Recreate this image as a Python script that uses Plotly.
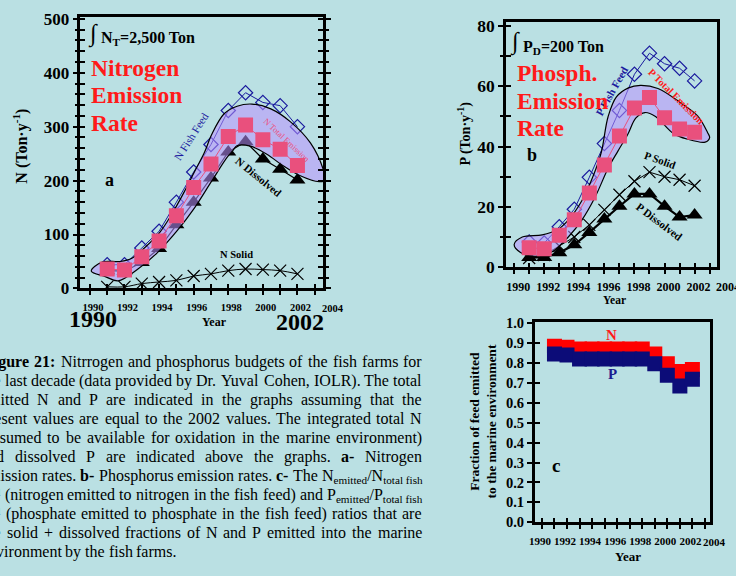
import re
import plotly.graph_objects as go

W, H = 736, 576
SERIF = "Liberation Serif"
BG = "#bae0e3"
PINK = "#e9507d"
NAVY = "#1a1a9e"
RED = "#ff1a1a"
BAND_FILL = "rgba(185,145,255,0.55)"

years = [1991, 1992, 1993, 1994, 1995, 1996, 1997, 1998, 1999, 2000, 2001, 2002]
year_ticks = [1990, 1992, 1994, 1996, 1998, 2000, 2002, 2004]

# ---- panel a : nitrogen (Ton/y)
n_fish_feed = [44, 44, 75, 106, 160, 216, 267, 330, 363, 345, 339, 300]
n_total_emission = [36, 34, 59, 88, 135, 187, 231, 282, 303, 276, 258, 228]
n_dissolved = [33, 32, 48, 74, 118, 160, 205, 253, 272, 240, 221, 201]
n_solid = [3, 3, 9, 12, 15, 23, 27, 33, 36, 35, 33, 27]
n_ticks = [0, 100, 200, 300, 400, 500]

# hand-drawn envelope around the N emission curves
band_a_x = [1990.08, 1990.71, 1991.75, 1992.43, 1993.18, 1994.04, 1994.72, 1995.47, 1996.04,
            1996.62, 1997.02, 1997.76, 1998.51, 1999.37, 2000.46, 2001.6, 2002.75, 2003.49,
            2003.6, 2003.25, 2002.1, 2001.15, 2000.23, 1999.28, 1998.52, 1998.25, 1997.93,
            1997.02, 1996.04, 1995.07, 1993.92, 1992.78, 1991.63, 1990.89, 1990.08]
band_a_y = [32, 49, 50, 56, 76, 104, 137, 180, 216, 252, 284, 324, 338, 342, 333, 309, 270, 221,
            201, 198, 210, 228, 249, 264, 265, 255, 243, 198, 149, 108, 67, 36, 14, 22, 32]

# ---- panel b : phosphorus (Ton/y)
p_fish_feed = [8.3, 8, 13.4, 19.2, 29.8, 41, 52, 64, 71, 67.5, 66, 61.8]
p_total_emission = [6.4, 6.1, 10.6, 15.7, 24.6, 33.9, 43.5, 52.8, 56.3, 49.6, 45.8, 44.8]
p_dissolved = [3.2, 3.2, 4.8, 7.4, 11.5, 16, 20.2, 24.3, 24.3, 20.2, 16.6, 17.3]
p_solid = [3, 4, 7, 10, 14, 19, 24, 28.5, 31.5, 30, 29, 27]
p_ticks = [0, 20, 40, 60, 80]

band_b_x = [1990.0, 1990.54, 1991.86, 1992.84, 1993.6, 1994.5, 1995.3, 1995.8, 1996.25, 1996.8,
            1997.6, 1998.4, 1999.56, 2001.08, 2002.2, 2002.86, 2003.0, 2002.7, 2001.5, 2000.6,
            1999.4, 1998.7, 1998.1, 1997.55, 1996.9, 1996.25, 1995.37, 1994.5, 1993.6, 1992.5,
            1991.4, 1990.4, 1990.0]
band_b_y = [7.5, 10, 10.7, 12.3, 15.6, 22, 30.8, 38.2, 50, 56.5, 59.5, 60.3, 59.3, 54.5, 50.2,
            44.7, 43, 41.5, 42.5, 44.3, 50, 51.3, 49.5, 44, 38.5, 32.8, 23.1, 15.6, 10, 5, 3.6,
            4.9, 7.5]

# ---- panel c : fraction of feed emitted
frac_n = [0.883, 0.879, 0.869, 0.869, 0.869, 0.869, 0.869, 0.869, 0.845, 0.796, 0.757, 0.767]
frac_p = [0.845, 0.840, 0.820, 0.820, 0.820, 0.820, 0.820, 0.820, 0.796, 0.738, 0.684, 0.718]
frac_ticks = [0.0, 0.1, 0.2, 0.3, 0.4, 0.5, 0.6, 0.7, 0.8, 0.9, 1.0]

# ---- caption (justified paragraph, left part cut by the page edge); '~' = non-breaking space
caption_lines = [
    "<b>Figure</b> <b>21:</b> Nitrrogen and phosphorus budgets of the fish farms for",
    "the last decade (data provided by Dr. Yuval Cohen, IOLR). The total",
    "emitted N and P are indicated in the graphs assuming that the",
    "present values are equal to the 2002 values. The integrated total N",
    "(assumed to be available for oxidation in the marine environment)",
    "and dissolved P are indicated above the graphs. <b>a-</b> Nitrogen",
    "emission rates. <b>b-</b> Phosphorus emission rates. <b>c-</b> The N<sub>emitted</sub>/N<sub>total~fish</sub>",
    "<sub>feed</sub> (nitrogen emitted to nitrogen in the fish feed) and P<sub>emitted</sub>/P<sub>total~fish</sub>",
    "<sub>feed</sub> (phosphate emitted to phosphate in the fish feed) ratios that are",
    "the solid + dissolved fractions of N and P emitted into the marine",
    "environment by the fish farms.",
]

# Times metrics (1/1000 em)
REG = {' ': 250, '(': 333, ')': 333, '+': 564, ',': 250, '-': 333, '.': 250, '/': 278, ':': 278,
       'A': 722, 'B': 667, 'C': 667, 'D': 722, 'E': 611, 'F': 556, 'G': 722, 'H': 722, 'I': 333,
       'J': 389, 'K': 722, 'L': 611, 'M': 889, 'N': 722, 'O': 722, 'P': 556, 'Q': 722, 'R': 667,
       'S': 556, 'T': 611, 'U': 722, 'V': 722, 'W': 944, 'X': 722, 'Y': 722, 'Z': 611,
       'a': 444, 'b': 500, 'c': 444, 'd': 500, 'e': 444, 'f': 333, 'g': 500, 'h': 500, 'i': 278,
       'j': 278, 'k': 500, 'l': 278, 'm': 778, 'n': 500, 'o': 500, 'p': 500, 'q': 500, 'r': 333,
       's': 389, 't': 278, 'u': 500, 'v': 500, 'w': 722, 'x': 500, 'y': 500, 'z': 444}
BOLD = dict(REG)
BOLD.update({':': 333, 'F': 611, 'a': 500, 'b': 556, 'c': 444, 'e': 444, 'g': 500, 'i': 278,
             'r': 444, 'u': 556})


def word_width(word, size):
    units, bold, sub = 0.0, False, False
    for tok in re.split(r'(<[^>]+>)', word):
        if tok == '<b>':
            bold = True
        elif tok == '</b>':
            bold = False
        elif tok == '<sub>':
            sub = True
        elif tok == '</sub>':
            sub = False
        elif tok:
            for ch in tok.replace('~', ' '):
                u = (BOLD if bold else REG).get(ch, 500)
                units += u * (0.7 if sub else 1.0)
    return units * size / 1000.0


fig = go.Figure()


def px_x(px):
    return px / W


def px_y(py):
    return 1 - py / H


# ---------------- panel a traces
fig.add_trace(go.Scatter(x=years, y=n_solid, mode='lines+markers', xaxis='x', yaxis='y',
                         line=dict(color='black', width=1, shape='spline'),
                         marker=dict(symbol='x-thin', size=12, line=dict(color='black', width=1.2))))
fig.add_trace(go.Scatter(x=years, y=n_dissolved, mode='lines+markers', xaxis='x', yaxis='y',
                         line=dict(color='black', width=1.2),
                         marker=dict(symbol='triangle-up', size=14, color='black')))
fig.add_trace(go.Scatter(x=years, y=n_fish_feed, mode='lines+markers', xaxis='x', yaxis='y',
                         line=dict(color=NAVY, width=1),
                         marker=dict(symbol='diamond-open', size=11, color=NAVY, line=dict(width=1.2))))
fig.add_trace(go.Scatter(x=band_a_x, y=band_a_y, mode='lines', fill='toself', fillcolor=BAND_FILL,
                         xaxis='x', yaxis='y',
                         line=dict(color='black', width=1.2, shape='spline', smoothing=1.0)))
fig.add_trace(go.Scatter(x=years, y=n_total_emission, mode='lines+markers', xaxis='x', yaxis='y',
                         line=dict(color=PINK, width=1),
                         marker=dict(symbol='square', size=15, color=PINK)))

# ---------------- panel b traces
fig.add_trace(go.Scatter(x=years, y=p_solid, mode='lines+markers', xaxis='x2', yaxis='y2',
                         line=dict(color='black', width=1),
                         marker=dict(symbol='x-thin', size=12, line=dict(color='black', width=1.2))))
fig.add_trace(go.Scatter(x=years, y=p_dissolved, mode='lines+markers', xaxis='x2', yaxis='y2',
                         line=dict(color='black', width=2.2),
                         marker=dict(symbol='triangle-up', size=14, color='black')))
fig.add_trace(go.Scatter(x=years, y=p_fish_feed, mode='lines+markers', xaxis='x2', yaxis='y2',
                         line=dict(color=NAVY, width=1),
                         marker=dict(symbol='diamond-open', size=11, color=NAVY, line=dict(width=1.2))))
fig.add_trace(go.Scatter(x=band_b_x, y=band_b_y, mode='lines', fill='toself', fillcolor=BAND_FILL,
                         xaxis='x2', yaxis='y2',
                         line=dict(color='black', width=1.2, shape='spline', smoothing=1.0)))
fig.add_trace(go.Scatter(x=years, y=p_total_emission, mode='lines+markers', xaxis='x2', yaxis='y2',
                         line=dict(color=PINK, width=1),
                         marker=dict(symbol='square', size=15, color=PINK)))

# ---------------- panel c traces
fig.add_trace(go.Scatter(x=years, y=frac_n, mode='markers', xaxis='x3', yaxis='y3',
                         marker=dict(symbol='square', size=15, color='#ff0000')))
fig.add_trace(go.Scatter(x=years, y=frac_p, mode='markers', xaxis='x3', yaxis='y3',
                         marker=dict(symbol='square', size=15, color='#0c0c78')))

# empty traces registering overlay axes (inside ticks -> crossing ticks)
for xa, ya in [('x4', 'y'), ('x', 'y4'), ('x5', 'y2'), ('x2', 'y5'), ('x6', 'y3'), ('x3', 'y6')]:
    fig.add_trace(go.Scatter(x=[None], y=[None], mode='markers', xaxis=xa, yaxis=ya,
                             hoverinfo='skip'))

XR_AB = [1989.45, 2003.5]
XR_C = [1989.42, 2003.42]


def tfont(size):
    return dict(family=SERIF, size=size, color='black', weight='bold')


def main_x(domain, rng, anchor, fsize, shift):
    return dict(domain=domain, range=rng, anchor=anchor, showgrid=False, zeroline=False,
                showline=True, linecolor='black', linewidth=2.5, mirror=True,
                tickvals=year_ticks, ticks='outside', ticklen=4, tickwidth=1.5, tickcolor='black',
                minor=dict(tick0=1990, dtick=1, ticks='outside', ticklen=4, tickwidth=1.5,
                           tickcolor='black'),
                tickfont=tfont(fsize), ticklabelshift=shift, ticklabelstandoff=3)


def over_x(base, rng, anchor):
    return dict(overlaying=base, range=rng, anchor=anchor, showgrid=False, zeroline=False,
                showline=False, showticklabels=False, ticks='inside', tick0=1990, dtick=1,
                ticklen=4, tickwidth=1.5, tickcolor='black')


def main_y(domain, rng, anchor, tickvals, minor_dtick, fsize, mirror, fmt=None):
    d = dict(domain=domain, range=rng, anchor=anchor, showgrid=False, zeroline=False,
             showline=True, linecolor='black', linewidth=2.5, mirror=mirror,
             tickvals=tickvals, ticks='outside', ticklen=5, tickwidth=2, tickcolor='black',
             minor=dict(tick0=0, dtick=minor_dtick, ticks='outside', ticklen=3, tickwidth=2,
                        tickcolor='black'),
             tickfont=tfont(fsize))
    if fmt:
        d['tickformat'] = fmt
    return d


def over_y(base, rng, anchor, dtick, mirror):
    return dict(overlaying=base, range=rng, anchor=anchor, showgrid=False, zeroline=False,
                showline=False, showticklabels=False, ticks='inside', tick0=0, dtick=dtick,
                ticklen=5, tickwidth=2, tickcolor='black', mirror=mirror)


dom_a_x = [px_x(75), px_x(320)]
dom_a_y = [px_y(290), px_y(10)]
dom_b_x = [px_x(504), px_x(717)]
dom_b_y = [px_y(268), px_y(15)]
dom_c_x = [px_x(533), px_x(710)]
dom_c_y = [px_y(531), px_y(325)]

YR_A = [0, 504]
YR_B = [0, 81.5]
YR_C = [0, 1.003]

annotations = []


def ann(text, x, y, size, color='black', bold=False, angle=0, xanchor='center',
        yanchor='middle'):
    annotations.append(dict(
        text=(f"<b>{text}</b>" if bold else text), x=px_x(x), y=px_y(y), xref='paper',
        yref='paper', showarrow=False, textangle=angle, xanchor=xanchor, yanchor=yanchor,
        font=dict(family=SERIF, size=size, color=color), borderpad=0, borderwidth=0))


# panel a texts
ann("∫", 88, 28, 24)
ann("N<sub>T</sub>=2,500 Ton", 96, 32, 16, bold=True, xanchor='left')
ann("Nitrogen", 86, 63, 23.5, RED, True, xanchor='left')
ann("Emission", 86, 91, 23.5, RED, True, xanchor='left')
ann("Rate", 86, 120, 23.5, RED, True, xanchor='left')
ann("a", 104, 178, 18, bold=True)
ann("N Fish Feed", 187, 133, 11, NAVY, angle=-57.5)
ann("N Total Emission", 283, 137, 8.5, PINK, angle=43)
ann("N Dissolved", 255, 175, 11, bold=True, angle=39)
ann("N Solid", 232, 255, 10.5, bold=True)
ann("2004", 330, 305, 10.5, bold=True, yanchor='top')
ann("1990", 88, 322, 24, bold=True)
ann("2002", 296, 325, 24, bold=True)
ann("Year", 210, 325, 12, bold=True)
ann("N (Ton·y<sup>-1</sup>)", 15, 143, 16, bold=True, angle=-90)

# panel b texts
ann("∫", 513, 36, 24)
ann("P<sub>D</sub>=200 Ton", 521, 42, 16, bold=True, xanchor='left')
ann("P Fish Feed", 611, 87, 11, NAVY, True, angle=-60.7)
ann("Phosph.", 515, 68, 23.5, RED, True, xanchor='left')
ann("Emission", 515, 97, 23.5, RED, True, xanchor='left')
ann("Rate", 515, 125, 23.5, RED, True, xanchor='left')
ann("b", 530, 153, 18, bold=True)
ann("P Total Emission", 675.5, 92.5, 10.4, RED, True, angle=45)
ann("P Solid", 659.5, 157.5, 10.9, bold=True, angle=19.5)
ann("P Dissolved", 659, 221.5, 11.2, bold=True, angle=37)
ann("2004", 728, 281, 12, bold=True, yanchor='top')
ann("Year", 613, 302, 11.5, bold=True)
ann("P (Ton·y<sup>-1</sup>)", 462, 130, 14, bold=True, angle=-90)

# panel c texts
ann("N", 610, 338, 15, RED, True)
ann("P", 611, 378, 15, '#1c1c90', True)
ann("c", 555, 472, 19, bold=True)
ann("2004", 714, 545, 11, bold=True, yanchor='top')
ann("Fraction of feed emitted<br>to the marine environment", 481, 427, 13.5, bold=True, angle=-90)
ann("Year", 627, 566, 13, bold=True)

# caption, justified word by word
CAP_SIZE = 16
CAP_RIGHT = 419
for i, line in enumerate(caption_lines):
    cap_left = -22 if i == 0 else -25
    words = line.split(' ')
    widths = [word_width(w, CAP_SIZE) for w in words]
    last = (i == len(caption_lines) - 1)
    if last or len(words) < 2:
        gap = 250 * CAP_SIZE / 1000.0
    else:
        gap = (CAP_RIGHT - cap_left - sum(widths)) / (len(words) - 1)
    xpos = cap_left
    ytop = 357 + 19.5 * i
    for w, wd in zip(words, widths):
        ann(w.replace('~', ' '), xpos, ytop, CAP_SIZE, xanchor='left', yanchor='top')
        xpos += wd + gap

fig.update_layout(
    width=W, height=H, margin=dict(l=0, r=0, t=0, b=0),
    paper_bgcolor=BG, plot_bgcolor='rgba(0,0,0,0)', showlegend=False,
    font=dict(family=SERIF, color='black'),
    xaxis=main_x(dom_a_x, XR_AB, 'y', 10.5, 3),
    yaxis=main_y(dom_a_y, YR_A, 'x', n_ticks, 20, 17, 'ticks'),
    xaxis2=main_x(dom_b_x, XR_AB, 'y2', 12, 4),
    yaxis2=main_y(dom_b_y, YR_B, 'x2', p_ticks, 10, 17.5, True),
    xaxis3=main_x(dom_c_x, XR_C, 'y3', 11, -2),
    yaxis3=main_y(dom_c_y, YR_C, 'x3', frac_ticks, 0.1, 14.5, True, '.1f'),
    xaxis4=over_x('x', XR_AB, 'y'),
    yaxis4=over_y('y', YR_A, 'x', 20, 'ticks'),
    xaxis5=over_x('x2', XR_AB, 'y2'),
    yaxis5=over_y('y2', YR_B, 'x2', 10, False),
    xaxis6=over_x('x3', XR_C, 'y3'),
    yaxis6=over_y('y3', YR_C, 'x3', 0.1, False),
    annotations=annotations,
)

fig.write_html("out.html", config={'displayModeBar': False})
